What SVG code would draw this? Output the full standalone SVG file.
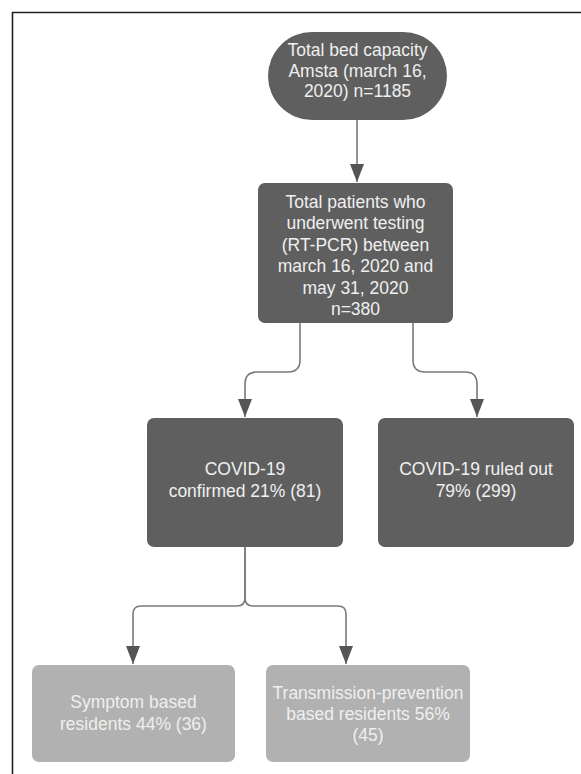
<svg xmlns="http://www.w3.org/2000/svg" width="581" height="774" viewBox="0 0 581 774">
<defs>
<style>
.dark{fill:#5f5f5f}
.light{fill:#b1b1b1}
.t{font-family:"Liberation Sans",Arial,sans-serif;font-size:17.5px;text-anchor:middle;fill:#efefef}
.c{fill:none;stroke:#7a7a7a;stroke-width:1.6}
.frame{fill:none;stroke:#222;stroke-width:1.6}
</style>
<marker id="a" viewBox="0 0 18 14" refX="18" refY="7" markerWidth="18" markerHeight="14" markerUnits="userSpaceOnUse" orient="auto">
<path d="M0,0 L18,7 L0,14 Z" fill="#555"/>
</marker>
</defs>
<rect width="581" height="774" fill="#fff"/>
<path class="frame" d="M12.5,774 V12.5 H581"/>
<g id="connectors">
<path class="c" d="M357,120 V182" marker-end="url(#a)"/>
<path class="c" d="M300,323 V360 Q300,372 288,372 H257 Q245,372 245,384 V417" marker-end="url(#a)"/>
<path class="c" d="M413,323 V360 Q413,372 425,372 H465 Q477,372 477,384 V417" marker-end="url(#a)"/>
<path class="c" d="M245,547 V598 Q245,606 237,606 H141 Q133,606 133,614 V664" marker-end="url(#a)"/>
<path class="c" d="M245,547 V598 Q245,606 253,606 H338 Q346,606 346,614 V664" marker-end="url(#a)"/>
</g>
<g id="n1">
<rect class="dark" x="268" y="32" width="179" height="88" rx="44"/>
<text class="t" x="357.5" y="56">Total bed capacity</text>
<text class="t" x="357.5" y="76.5">Amsta (march 16,</text>
<text class="t" x="357.5" y="97">2020) n=1185</text>
</g>
<g id="n2">
<rect class="dark" x="258" y="183" width="195" height="140" rx="7"/>
<text class="t" x="355.5" y="207.5">Total patients who</text>
<text class="t" x="355.5" y="229">underwent testing</text>
<text class="t" x="355.5" y="250.5">(RT-PCR) between</text>
<text class="t" x="355.5" y="272">march 16, 2020 and</text>
<text class="t" x="355.5" y="293.5">may 31, 2020</text>
<text class="t" x="355.5" y="315">n=380</text>
</g>
<g id="n3">
<rect class="dark" x="147" y="418" width="196" height="129" rx="7"/>
<text class="t" x="245" y="475">COVID-19</text>
<text class="t" x="245" y="496.5">confirmed 21% (81)</text>
</g>
<g id="n4">
<rect class="dark" x="378" y="418" width="196" height="129" rx="7"/>
<text class="t" x="476" y="475">COVID-19 ruled out</text>
<text class="t" x="476" y="496.5">79% (299)</text>
</g>
<g id="n5">
<rect class="light" x="32" y="665" width="203" height="97" rx="7"/>
<text class="t" x="133.5" y="708">Symptom based</text>
<text class="t" x="133.5" y="729.5">residents 44% (36)</text>
</g>
<g id="n6">
<rect class="light" x="266" y="665" width="204" height="97" rx="7"/>
<text class="t" x="368" y="699">Transmission-prevention</text>
<text class="t" x="368" y="720">based residents 56%</text>
<text class="t" x="368" y="741">(45)</text>
</g>
</svg>
